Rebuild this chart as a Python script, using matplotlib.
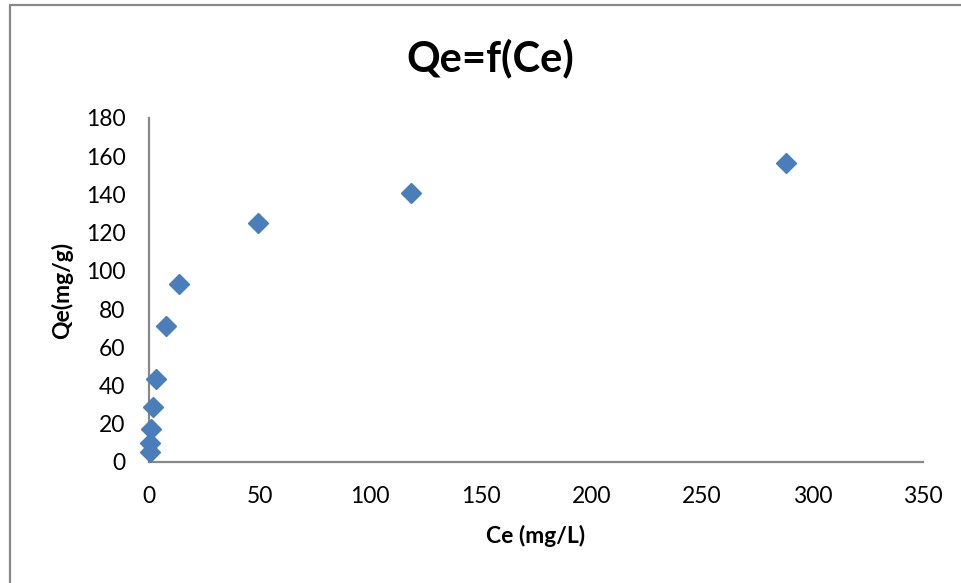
import matplotlib.pyplot as plt
from matplotlib.patches import Rectangle

# Ce (mg/L) and Qe (mg/g) for each isotherm point
ce = [0.4, 0.5, 0.9, 1.7, 3.2, 7.6, 13.7, 49.5, 118.6, 287.9]
qe = [5.0, 10.0, 17.5, 29.0, 43.5, 71.2, 93.0, 125.3, 140.8, 156.5]

x_ticks = [0, 50, 100, 150, 200, 250, 300, 350]
y_ticks = [0, 20, 40, 60, 80, 100, 120, 140, 160, 180]

plt.rcParams['font.family'] = ['Lato', 'DejaVu Sans']

fig = plt.figure(figsize=(9.62, 5.83), dpi=100)
ax = fig.add_axes([149 / 962, 1 - 462 / 583, (923 - 149) / 962, (462 - 118) / 583])

ax.plot(ce, qe, linestyle='none', marker='D', markersize=10,
        color='#4a7ebb', markeredgecolor='#4a7ebb', clip_on=False, zorder=3)

ax.set_xlim(0, 350)
ax.set_ylim(0, 180)
ax.set_xticks(x_ticks)
ax.set_yticks(y_ticks)
ax.tick_params(length=0, pad=17, labelsize=16.5)

for side in ['top', 'right']:
    ax.spines[side].set_visible(False)
for side in ['left', 'bottom']:
    ax.spines[side].set_color('#888888')
    ax.spines[side].set_linewidth(1.6)

ax.set_xlabel('Ce (mg/L)', fontsize=16.5, fontweight='bold', labelpad=13)
ax.set_ylabel('Qe(mg/g)', fontsize=16.5, fontweight='bold', labelpad=9)

fig.text(490 / 962, 1 - 58 / 583, 'Qe=f(Ce)', fontsize=30, fontweight='bold',
         ha='center', va='center')

# chart frame
fig.patches.append(Rectangle((10 / 962, -0.1), 1.2, 1 - 5 / 583 + 0.1,
                             transform=fig.transFigure, fill=False,
                             edgecolor='#888888', linewidth=1.6))

fig.savefig('out.png', dpi=100)
